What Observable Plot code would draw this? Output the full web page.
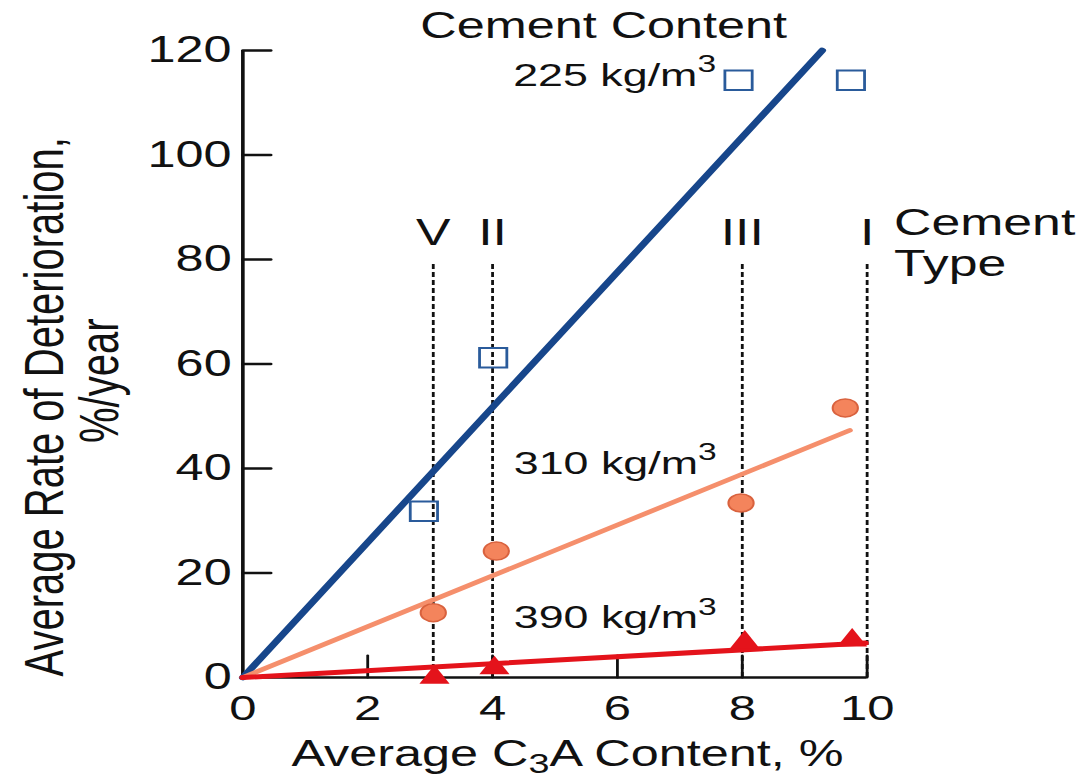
<!DOCTYPE html>
<html>
<head>
<meta charset="utf-8">
<script src="https://cdn.jsdelivr.net/npm/d3@7"></script>
<script src="https://cdn.jsdelivr.net/npm/@observablehq/plot@0.6"></script>
<style>
  html, body { margin: 0; padding: 0; background: #fff; }
  #chart { width: 1082px; height: 778px; overflow: hidden; }
</style>
</head>
<body>
<div id="chart"></div>
<script>
// ---------- data ----------
const c3aTicks = [0, 2, 4, 6, 8, 10];
const rateTicks = [0, 20, 40, 60, 80, 100, 120];

const cementTypes = ["V", "II", "III", "I"];
const typeC3A = [3.05, 4, 8, 10];

// observations (C3A %, rate %/year)
const c3a225 = [2.9, 4.01, 7.94, 9.74];
const rate225 = [31.8, 61.2, 114.3, 114.3];
const c3a310 = [3.05, 4.06, 7.98, 9.65];
const rate310 = [12.4, 24.2, 33.4, 51.6];
const c3a390 = [3.07, 4.03, 8.04, 9.76];
const rate390 = [0, 1.8, 6.7, 7.1];

// fitted lines (end points)
const fitC3A225 = [0, 9.28], fitRate225 = [0, 120];
const fitC3A310 = [0, 9.72], fitRate310 = [0, 47.3];
const fitC3A390 = [0, 9.97], fitRate390 = [0, 6.6];

// texts
const contentTitle = ["Cement Content"];
const contentLabels = ["225 kg/m³", "310 kg/m³", "390 kg/m³"];
const typeTitle = ["Cement", "Type"];
const xTitle = ["Average C₃A Content, %"];
const yTitle = ["Average Rate of Deterioration,", "%/year"];

// ---------- layout (annotation anchors in data units) ----------
const typeLineTop = 79.2;
const typeLabelRate = 82.7;
const contentTitleAt = {x: 5.78, y: 122.3};
const contentLabelC3A = [7.58, 4.34, 4.34];
const contentLabelRate = [113.3, 39.0, 9.4];
const typeTitleC3A = 10.43;
const typeTitleRate = [84.6, 76.9];
const xTitleC3A = 5.2;
const yTitleRate = [51.8, 56.8];

const W = 773, H = 778, OUT_W = 1082;
const font = "'Liberation Sans', Arial, Helvetica, sans-serif";
const ink = "#111";

const pts = (xs, ys) => xs.map((x, i) => ({x, y: ys[i]}));
// a plain tick stroke pointing "up" before rotation
const tickShape = {draw(context, l) { context.moveTo(0, 0); context.lineTo(0, -l); }};

const plot = Plot.plot({
  width: W,
  height: H,
  marginLeft: 173,
  marginRight: 154,
  marginTop: 50,
  marginBottom: 101,
  x: {domain: [0, 10], axis: null},
  y: {domain: [0, 120], axis: null},
  style: {fontFamily: font, background: "#fff", color: ink, overflow: "visible"},
  marks: [
    // dashed cement-type guides
    Plot.ruleX(typeC3A, {y1: 0, y2: typeLineTop, stroke: ink, strokeWidth: 2, strokeDasharray: "5,3"}),
    // axis lines
    Plot.ruleX([0], {stroke: ink, strokeWidth: 2.6}),
    Plot.ruleY([0], {stroke: ink, strokeWidth: 2.6}),
    // inward ticks
    Plot.vector(rateTicks.slice(1), {x: 0, y: d => d, rotate: 90, length: 20, anchor: "start", shape: tickShape, stroke: ink, strokeWidth: 2.4}),
    Plot.vector(c3aTicks.slice(1), {x: d => d, y: 0, rotate: 0, length: 22, anchor: "start", shape: tickShape, stroke: ink, strokeWidth: 2}),
    // tick labels
    Plot.axisY({ticks: rateTicks, tickSize: 0, tickPadding: 8, fontSize: 36, fill: ink, label: null}),
    Plot.axisX({ticks: c3aTicks, tickSize: 0, tickPadding: 18, fontSize: 35, fill: ink, label: null}),
    // fitted lines
    Plot.line(pts(fitC3A225, fitRate225), {x: "x", y: "y", stroke: "#17468b", strokeWidth: 5.5}),
    Plot.line(pts(fitC3A310, fitRate310), {x: "x", y: "y", stroke: "#f58f6c", strokeWidth: 4.5}),
    Plot.line(pts(fitC3A390, fitRate390), {x: "x", y: "y", stroke: "#e4131b", strokeWidth: 5}),
    // observations
    Plot.dot(pts(c3a225, rate225), {x: "x", y: "y", symbol: "square", r: 11, stroke: "#2a5b9b", strokeWidth: 2, fill: "none"}),
    Plot.dot(pts(c3a310, rate310), {x: "x", y: "y", symbol: "circle", r: 9, fill: "#f4845c", stroke: "#d9623e", strokeWidth: 1.5}),
    Plot.dot(pts(c3a390, rate390), {x: "x", y: "y", symbol: "triangle", r: 8, fill: "#e4131b"}),
    // annotations
    Plot.text(contentTitle, {x: [contentTitleAt.x], y: [contentTitleAt.y], text: d => d, fontSize: 36, fill: ink, lineAnchor: "bottom", textAnchor: "middle"}),
    Plot.text(contentLabels.slice(0, 1), {x: contentLabelC3A.slice(0, 1), y: contentLabelRate.slice(0, 1), text: d => d, fontSize: 32, fill: ink, lineAnchor: "bottom", textAnchor: "end"}),
    Plot.text(contentLabels.slice(1), {x: contentLabelC3A.slice(1), y: contentLabelRate.slice(1), text: d => d, fontSize: 32, fill: ink, lineAnchor: "bottom", textAnchor: "start"}),
    Plot.text(cementTypes, {x: typeC3A, y: cementTypes.map(() => typeLabelRate), text: d => d, fontSize: 37, fill: ink, lineAnchor: "bottom", textAnchor: "middle"}),
    Plot.text(typeTitle, {x: typeTitle.map(() => typeTitleC3A), y: typeTitleRate, text: d => d, fontSize: 37, fill: ink, lineAnchor: "bottom", textAnchor: "start"}),
    Plot.text(xTitle, {x: [xTitleC3A], frameAnchor: "bottom", text: d => d, fontSize: 36, fill: ink, lineAnchor: "bottom", textAnchor: "middle", dy: 88}),
    Plot.text(yTitle.slice(0, 1), {frameAnchor: "left", y: yTitleRate.slice(0, 1), text: d => d, rotate: -90, fontSize: 40, fill: ink, lineAnchor: "middle", textAnchor: "middle", dx: -141}),
    Plot.text(yTitle.slice(1), {frameAnchor: "left", y: yTitleRate.slice(1), text: d => d, rotate: -90, fontSize: 40, fill: ink, lineAnchor: "middle", textAnchor: "middle", dx: -102})
  ]
});

// real super/subscript 3 via tspans
function scriptify(svg) {
  const NS = "http://www.w3.org/2000/svg";
  svg.querySelectorAll("text").forEach(t => {
    const s = t.textContent;
    if (!/[³₃]/.test(s)) return;
    t.textContent = "";
    let pending = 0;
    for (const part of s.split(/([³₃])/)) {
      if (!part) continue;
      const ts = document.createElementNS(NS, "tspan");
      if (part === "³" || part === "₃") {
        const shift = part === "³" ? -0.42 : 0.22;
        ts.textContent = "3";
        ts.setAttribute("font-size", "75%");
        ts.setAttribute("dy", `${(shift + pending) / 0.75}em`);
        pending = -shift;
      } else {
        ts.textContent = part;
        if (pending) ts.setAttribute("dy", `${pending}em`);
        pending = 0;
      }
      t.appendChild(ts);
    }
  });
}
scriptify(plot);

// the reference is stretched horizontally: draw in W units, show at OUT_W
plot.setAttribute("viewBox", `0 0 ${W} ${H}`);
plot.setAttribute("width", OUT_W);
plot.setAttribute("height", H);
plot.setAttribute("preserveAspectRatio", "none");
plot.style.width = OUT_W + "px";
plot.style.height = H + "px";
plot.style.maxWidth = "none";
document.getElementById("chart").appendChild(plot);
</script>
</body>
</html>
